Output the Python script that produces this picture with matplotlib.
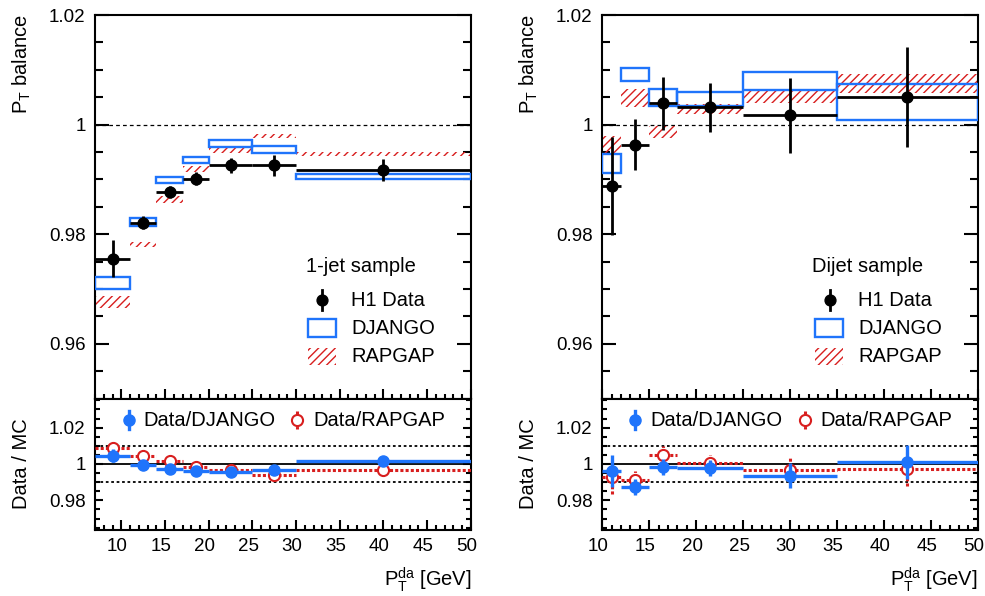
import numpy as np
import matplotlib
matplotlib.use("Agg")
import matplotlib.pyplot as plt
import matplotlib.transforms as mtrans
from matplotlib.patches import Rectangle
from matplotlib.lines import Line2D
from matplotlib.ticker import MultipleLocator, FuncFormatter

plt.rcParams['font.family'] = ['Liberation Sans', 'DejaVu Sans']
plt.rcParams['mathtext.fontset'] = 'custom'
plt.rcParams['mathtext.rm'] = 'Liberation Sans'
plt.rcParams['mathtext.it'] = 'Liberation Sans:italic'
plt.rcParams['hatch.linewidth'] = 1.0

# ---------------- data: 1-jet sample ----------------
jet1_edges = [7, 11, 14, 17, 20, 25, 30, 50]
jet1_x = [9, 12.5, 15.5, 18.5, 22.5, 27.5, 40]
jet1_data = [0.9755, 0.9821, 0.9877, 0.9901, 0.99255, 0.9926, 0.9917]
jet1_data_err = [0.0034, 0.0012, 0.0011, 0.0012, 0.0013, 0.0019, 0.0020]
jet1_django = [0.9710, 0.9822, 0.98985, 0.99355, 0.9965, 0.99545, 0.9905]
jet1_django_err = [0.0011, 0.0007, 0.0006, 0.0006, 0.0006, 0.0006, 0.0005]
jet1_rapgap = [0.9677, 0.9781, 0.98637, 0.99188, 0.99536, 0.99797, 0.99463]
jet1_rapgap_err = [0.0011, 0.0005, 0.0006, 0.00055, 0.0005, 0.0004, 0.0004]
jet1_ratio_dj = [1.0045, 0.9996, 0.9973, 0.9964, 0.99545, 0.99673, 1.0015]
jet1_ratio_dj_err = [0.0035, 0.0012, 0.0011, 0.0012, 0.0013, 0.0019, 0.0020]
jet1_ratio_rg = [1.0087, 1.0042, 1.0018, 0.99855, 0.9969, 0.9942, 0.9969]
jet1_ratio_rg_err = [0.0035, 0.0012, 0.0011, 0.0012, 0.0013, 0.0019, 0.0020]

# ---------------- data: dijet sample ----------------
dij_edges = [10, 12, 15, 18, 25, 35, 50]
dij_x = [11, 13.5, 16.5, 21.5, 30, 42.5]
dij_data = [0.98878, 0.99636, 1.00388, 1.00315, 1.00169, 1.00497]
dij_data_err = [0.0089, 0.0046, 0.0048, 0.0045, 0.0068, 0.0091]
dij_django = [0.99285, 1.0091, 1.00497, 1.0046, 1.00797, 1.00412]
dij_django_err = [0.0017, 0.0012, 0.0015, 0.0013, 0.0017, 0.0033]
dij_rapgap = [0.9962, 1.00485, 0.9987, 1.00288, 1.0052, 1.0075]
dij_rapgap_err = [0.0017, 0.0016, 0.0011, 0.0009, 0.0012, 0.0018]
dij_ratio_dj = [0.9960, 0.9873, 0.9982, 0.9978, 0.9936, 1.0009]
dij_ratio_dj_err = [0.0088, 0.0044, 0.0045, 0.0045, 0.0070, 0.0094]
dij_ratio_rg = [0.9931, 0.9913, 1.0051, 1.0004, 0.9967, 0.9973]
dij_ratio_rg_err = [0.0095, 0.0046, 0.0048, 0.0045, 0.0068, 0.0095]

top_yticks = [0.96, 0.98, 1.0, 1.02]
bot_yticks = [0.98, 1.0, 1.02]
xticks = [10, 15, 20, 25, 30, 35, 40, 45, 50]

BLUE = '#1f74fb'
RED = '#d81e1e'
HATCH = '////'
W, H = 985, 596

fig = plt.figure(figsize=(W / 100, H / 100), dpi=100)


def fx(px):
    return px / W


def fy(py):
    return 1 - py / H


def make_axes(x0, x1):
    top = fig.add_axes([fx(x0), fy(398.5), fx(x1) - fx(x0), fy(15) - fy(398.5)])
    bot = fig.add_axes([fx(x0), fy(529.5), fx(x1) - fx(x0), fy(398.5) - fy(529.5)])
    return top, bot


fmt = FuncFormatter(lambda v, p: '{:g}'.format(round(v, 4)))


def style(ax, xlim, ylim, yticks, ymaj, ymin_len, labelbottom):
    ax.set_xlim(*xlim)
    ax.set_ylim(*ylim)
    ax.set_yticks(yticks)
    ax.yaxis.set_minor_locator(MultipleLocator(0.005))
    ax.set_xticks(xticks)
    ax.xaxis.set_minor_locator(MultipleLocator(1))
    ax.yaxis.set_major_formatter(fmt)
    ax.tick_params(axis='both', which='both', direction='in', width=1.5,
                   left=True, right=True, top=False, bottom=True,
                   labelsize=13.5, labelbottom=labelbottom)
    ax.tick_params(axis='y', which='major', length=ymaj, pad=7)
    ax.tick_params(axis='y', which='minor', length=ymin_len)
    ax.tick_params(axis='x', which='major', length=7, pad=6)
    ax.tick_params(axis='x', which='minor', length=3.5)
    for s in ax.spines.values():
        s.set_linewidth(1.5)
    if labelbottom:
        off = mtrans.ScaledTranslation(-4 / 100, 0, fig.dpi_scale_trans)
        for lab in ax.get_xticklabels():
            lab.set_transform(lab.get_transform() + off)


def draw_top(ax, edges, x, data, derr, dj, djerr, rg, rgerr):
    edges = np.array(edges)
    lo, hi = edges[:-1], edges[1:]
    x = np.array(x)
    dj = np.array(dj); djerr = np.array(djerr)
    rg = np.array(rg); rgerr = np.array(rgerr)
    ax.axhline(1.0, color='black', lw=0.9, ls=(0, (3, 2.5)), zorder=1)
    ax.bar(lo, 2 * rgerr, width=hi - lo, bottom=rg - rgerr, align='edge',
           facecolor='none', edgecolor=RED, linewidth=0, hatch=HATCH, zorder=2)
    ax.bar(lo, 2 * djerr, width=hi - lo, bottom=dj - djerr, align='edge',
           fill=False, edgecolor=BLUE, linewidth=1.7, zorder=3)
    ax.errorbar(x, data, yerr=derr, xerr=[x - lo, hi - x], fmt='o', color='black',
                ms=7.8, elinewidth=2.0, capsize=0, zorder=4)


def draw_bot(ax, edges, x, rdj, rdjerr, rrg, rrgerr):
    edges = np.array(edges)
    lo, hi = edges[:-1], edges[1:]
    x = np.array(x)
    ax.axhline(1.0, color='black', lw=1.3, zorder=1)
    ax.axhline(1.01, color='black', lw=1.3, ls=(0, (1.5, 1.5)), zorder=1)
    ax.axhline(0.99, color='black', lw=1.3, ls=(0, (1.5, 1.5)), zorder=1)
    e2 = ax.errorbar(x, rrg, yerr=rrgerr, xerr=[x - lo, hi - x], fmt='o', color=RED,
                     mfc='white', mec=RED, mew=1.5, ms=8, elinewidth=2.2, capsize=0,
                     zorder=3)
    for lc in e2[2]:
        lc.set_linestyle((0, (1.0, 0.7)))
    ax.errorbar(x, rdj, yerr=rdjerr, xerr=[x - lo, hi - x], fmt='o', color=BLUE,
                ms=8, elinewidth=2.4, capsize=0, zorder=4)


ax1, ax1b = make_axes(95.3, 470.7)
ax2, ax2b = make_axes(602.3, 977.7)

draw_top(ax1, jet1_edges, jet1_x, jet1_data, jet1_data_err, jet1_django,
         jet1_django_err, jet1_rapgap, jet1_rapgap_err)
draw_bot(ax1b, jet1_edges, jet1_x, jet1_ratio_dj, jet1_ratio_dj_err,
         jet1_ratio_rg, jet1_ratio_rg_err)
draw_top(ax2, dij_edges, dij_x, dij_data, dij_data_err, dij_django,
         dij_django_err, dij_rapgap, dij_rapgap_err)
draw_bot(ax2b, dij_edges, dij_x, dij_ratio_dj, dij_ratio_dj_err,
         dij_ratio_rg, dij_ratio_rg_err)

style(ax1, (7, 50), (0.95, 1.02), top_yticks, 10, 5.5, False)
style(ax2, (10, 50), (0.95, 1.02), top_yticks, 10, 5.5, False)
style(ax1b, (7, 50), (0.964, 1.036), bot_yticks, 6, 3.5, True)
style(ax2b, (10, 50), (0.964, 1.036), bot_yticks, 6, 3.5, True)

FS = 14.5
# axis labels
for off in (0, 507):
    fig.text(fx(22 + off), fy(14), r'P$_\mathrm{T}$ balance', rotation=90,
             ha='center', va='top', fontsize=FS)
    fig.text(fx(22 + off), fy(464), 'Data / MC', rotation=90,
             ha='center', va='center', fontsize=FS)
fig.text(fx(472), fy(586), r'P$_\mathrm{T}^\mathrm{da}$ [GeV]', ha='right',
         va='baseline', fontsize=FS)
fig.text(fx(978), fy(586), r'P$_\mathrm{T}^\mathrm{da}$ [GeV]', ha='right',
         va='baseline', fontsize=FS)


# top legends
def top_legend(title, tx, mx, bx0, bx1, lx):
    fig.text(fx(tx), fy(267), title, ha='left', va='center', fontsize=FS)
    fig.add_artist(Line2D([fx(mx), fx(mx)], [fy(290), fy(310)], color='black',
                          lw=2.0, transform=fig.transFigure))
    fig.add_artist(Line2D([fx(mx)], [fy(300)], marker='o', ms=7.8, color='black',
                          transform=fig.transFigure))
    fig.add_artist(Rectangle((fx(bx0), fy(337.3)), fx(bx1) - fx(bx0),
                             fy(319.5) - fy(337.3), fill=False, ec=BLUE, lw=1.7,
                             transform=fig.transFigure))
    fig.add_artist(Rectangle((fx(bx0), fy(365)), fx(bx1) - fx(bx0),
                             fy(347.5) - fy(365), facecolor='none', ec=RED, lw=0,
                             hatch=HATCH, transform=fig.transFigure))
    fig.text(fx(lx), fy(300), 'H1 Data', ha='left', va='center', fontsize=FS)
    fig.text(fx(lx), fy(328), 'DJANGO', ha='left', va='center', fontsize=FS)
    fig.text(fx(lx), fy(356), 'RAPGAP', ha='left', va='center', fontsize=FS)


top_legend('1-jet sample', 306, 321.7, 308, 336, 351)
top_legend('Dijet sample', 812, 830, 814.5, 843, 858)


# bottom legends
def bot_legend(m1, t1, m2, t2):
    y = 420
    fig.add_artist(Line2D([fx(m1), fx(m1)], [fy(411), fy(429)], color=BLUE,
                          lw=2.4, transform=fig.transFigure))
    fig.add_artist(Line2D([fx(m1)], [fy(y)], marker='o', ms=8, color=BLUE,
                          transform=fig.transFigure))
    fig.text(fx(t1), fy(y), 'Data/DJANGO', ha='left', va='center', fontsize=FS)
    fig.add_artist(Line2D([fx(m2), fx(m2)], [fy(411), fy(429)], color=RED,
                          lw=2.2, ls=(0, (1.0, 0.7)), transform=fig.transFigure))
    fig.add_artist(Line2D([fx(m2)], [fy(y)], marker='o', ms=8, color=RED,
                          mfc='white', mec=RED, mew=1.5, transform=fig.transFigure))
    fig.text(fx(t2), fy(y), 'Data/RAPGAP', ha='left', va='center', fontsize=FS)


bot_legend(129, 143, 297, 313)
bot_legend(635, 650, 805, 820)

fig.savefig('out.png', dpi=100)
